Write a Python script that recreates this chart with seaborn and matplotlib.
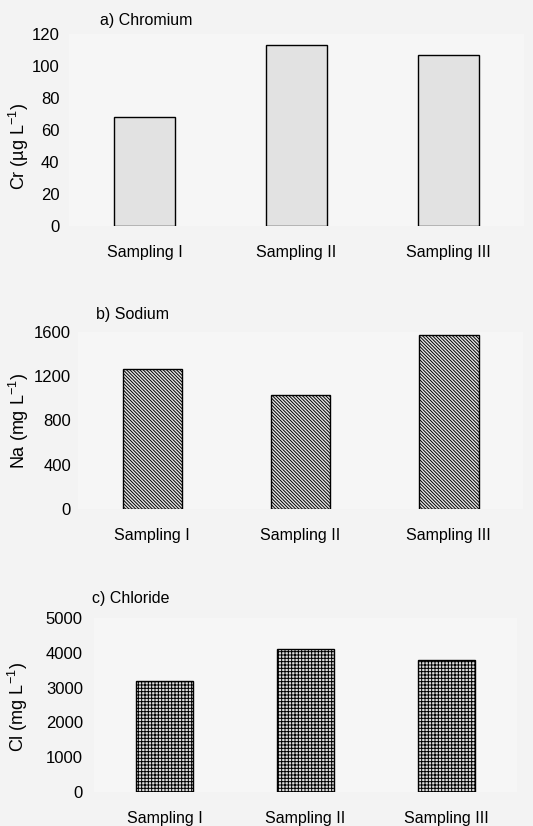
import pandas as pd
import matplotlib
matplotlib.use("Agg")
import matplotlib.pyplot as plt
import seaborn as sns

# values
samplings = ["Sampling I", "Sampling II", "Sampling III"]
chromium = [68, 113, 107]
sodium = [1265, 1030, 1573]
chloride = [3190, 4110, 3790]

sns.set_style("white")
plt.rcParams['font.family'] = ['Liberation Sans', 'DejaVu Sans']
plt.rcParams['mathtext.fontset'] = 'custom'
plt.rcParams['mathtext.rm'] = 'Liberation Sans'
plt.rcParams['mathtext.it'] = 'Liberation Sans:italic'
plt.rcParams['hatch.linewidth'] = 0.7
plt.rcParams['text.color'] = 'black'
plt.rcParams['xtick.color'] = 'black'
plt.rcParams['ytick.color'] = 'black'

W, H = 533, 826
fig = plt.figure(figsize=(W / 100, H / 100), dpi=100, facecolor='#f3f3f3')


def px_axes(left, top, right, bottom):
    return fig.add_axes([left / W, 1 - bottom / H, (right - left) / W, (bottom - top) / H])


# panel settings: pixel box, data, labels, ticks, hatch, fill colour, text spots
panels = [
    dict(box=(69, 34, 524, 226), vals=chromium, title="a) Chromium", ylab="Cr (µg L$^{-1}$)",
         ticks=[0, 20, 40, 60, 80, 100, 120], hatch=None, fill='#e2e2e2',
         tpos=(100, 21), ypos=(19, 146), ypad=7),
    dict(box=(78, 332, 523, 509), vals=sodium, title="b) Sodium", ylab="Na (mg L$^{-1}$)",
         ticks=[0, 400, 800, 1200, 1600], hatch='\\' * 10, fill='#e6e6e6',
         tpos=(96, 315), ypos=(19, 421), ypad=5),
    dict(box=(94, 618, 517, 792), vals=chloride, title="c) Chloride", ylab="Cl (mg L$^{-1}$)",
         ticks=[0, 1000, 2000, 3000, 4000, 5000], hatch='+' * 5, fill='#dcdcdc',
         tpos=(92, 598), ypos=(18, 707), ypad=8),
]

for p in panels:
    ax = px_axes(*p['box'])
    df = pd.DataFrame({'sampling': samplings, 'value': p['vals']})
    sns.barplot(data=df, x='sampling', y='value', color=p['fill'], width=0.4,
                edgecolor='black', linewidth=1.0, saturation=1, ax=ax)
    for bar in ax.patches:
        bar.set_facecolor(p['fill'])
        if p['hatch']:
            bar.set_hatch(p['hatch'])
    ax.set_xlim(-0.5, 2.5)
    ax.set_ylim(0, p['ticks'][-1])
    ax.set_yticks(p['ticks'])
    ax.set_facecolor('#f6f6f6')
    for s in ax.spines.values():
        s.set_visible(False)
    ax.tick_params(axis='both', length=0)
    ax.tick_params(axis='x', pad=14, labelsize=11.5)
    ax.tick_params(axis='y', pad=p['ypad'], labelsize=12)
    ax.set_xlabel('')
    ax.set_ylabel('')
    fig.text(p['ypos'][0] / W, 1 - p['ypos'][1] / H, p['ylab'], fontsize=13,
             rotation=90, ha='center', va='center')
    fig.text(p['tpos'][0] / W, 1 - p['tpos'][1] / H, p['title'], fontsize=11.5,
             ha='left', va='center')

fig.savefig('out.png', dpi=100, facecolor=fig.get_facecolor())
